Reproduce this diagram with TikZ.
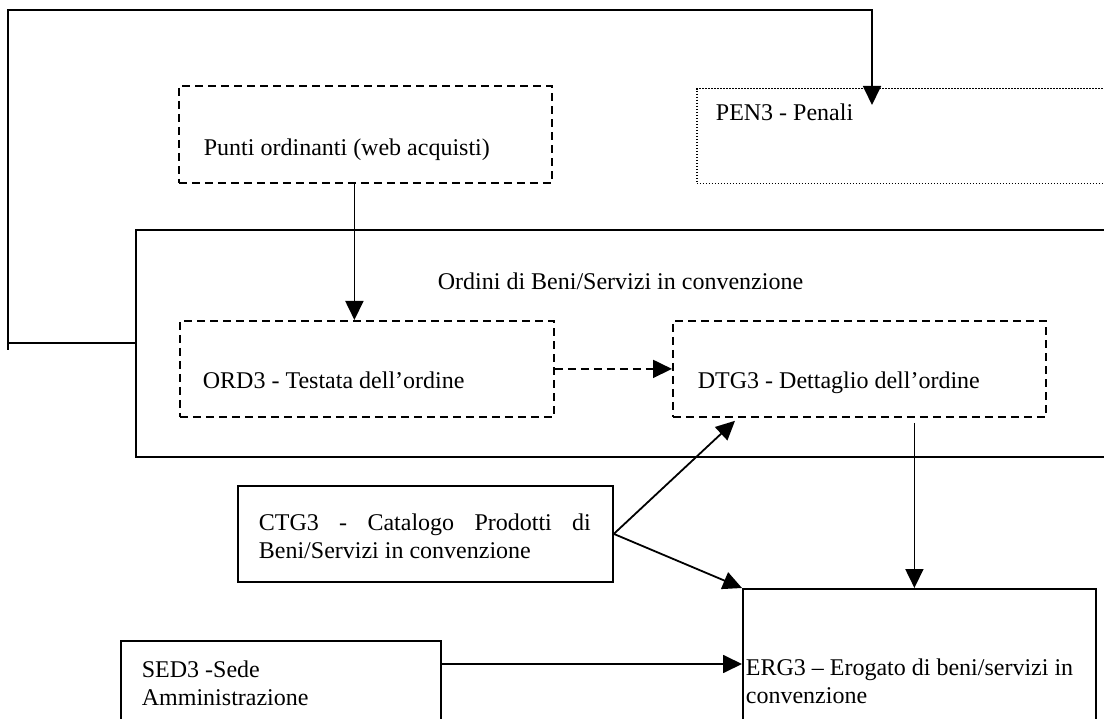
\documentclass[tikz,border=0pt]{standalone}
\usepackage{fontspec}
\setmainfont{Liberation Serif}
\usetikzlibrary{arrows.meta,positioning,calc}

\begin{document}
\begin{tikzpicture}[x=1pt, y=-1pt, line width=1.8pt,
	box/.style={draw, rectangle, anchor=north west, inner sep=0pt},
	dbox/.style={box, dash pattern=on 8pt off 5pt},
	pbox/.style={box, line width=1.5pt, dash pattern=on 1.5pt off 1.5pt},
	txt/.style={anchor=base west, inner sep=0pt, font=\fontsize{24}{27.6}\selectfont},
	arr/.style={-{Triangle[length=19pt, width=18pt]}}]
	\useasboundingbox (0,0) rectangle (1104,719);
	\clip (0,0) rectangle (1104,719);

	% boxes
	\node (punti) at (178,85) [dbox, minimum width=373, minimum height=97] {};
	\node (pen3) at (696,88) [pbox, minimum width=430, minimum height=95] {};
	\node (ordini) at (135,229) [box, minimum width=1000, minimum height=227] {};
	\node (ord3) at (179,320) [dbox, minimum width=374, minimum height=96] {};
	\node (dtg3) at (672,320) [dbox, minimum width=373, minimum height=96] {};
	\node (ctg3) at (237,485) [box, minimum width=375, minimum height=96] {};
	\node (erg3) at (742,588) [box, minimum width=353, minimum height=160] {};
	\node (sed3) at (120,640) [box, minimum width=320, minimum height=110] {};

	% texts
	\node (puntit) [txt] at ([xshift=25,yshift=-71]punti.north west) {Punti ordinanti (web acquisti)};
	\node (pen3t) [txt] at ([xshift=19,yshift=-33]pen3.north west) {PEN3 - Penali};
	\node (ordinit) [txt] at ([xshift=302,yshift=-61]ordini.north west) {Ordini di Beni/Servizi in convenzione};
	\node (ord3t) [txt] at ([xshift=23,yshift=-69]ord3.north west) {ORD3 - Testata dell’ordine};
	\node (dtg3t) [txt] at ([xshift=25,yshift=-69]dtg3.north west) {DTG3 - Dettaglio dell’ordine};
	\node (ctg3t) [txt, anchor=north west, text width=332pt, align=justify] at ([xshift=21,yshift=-28]ctg3.north west)
		{CTG3 - Catalogo Prodotti di Beni/Servizi in convenzione};
	\node (erg3t) [txt, anchor=north west, align=left] at ([xshift=3,yshift=-70]erg3.north west)
		{ERG3 – Erogato di beni/servizi in\\convenzione};
	\node (sed3t) [txt, anchor=north west, align=left] at ([xshift=21,yshift=-20]sed3.north west)
		{SED3 -Sede\\Amministrazione};

	% connectors
	\coordinate (loopleft) at (8,10);
	\draw[arr] (ordini.west) -| (loopleft) -| ([xshift=176,yshift=-17]pen3.north west);
	\draw (loopleft |- ordini.west) -- ++(0,7);
	\draw[arr] ([xshift=-11]punti.south) -- ([xshift=-11]punti.south |- ord3.north);
	\draw[arr, dash pattern=on 8pt off 5pt] (ord3.east) -- (dtg3.west);
	\draw[arr] ([xshift=-5,yshift=-5]erg3.north |- dtg3.south) -- ([xshift=-5]erg3.north);
	\draw[arr] (ctg3.east) -- ([xshift=63,yshift=-3]dtg3.south west);
	\draw[arr] (ctg3.east) -- (erg3.north west);
	\draw[arr] ([yshift=-24]sed3.north east) -- ([yshift=-24]sed3.north east -| erg3.west);
\end{tikzpicture}
\end{document}
